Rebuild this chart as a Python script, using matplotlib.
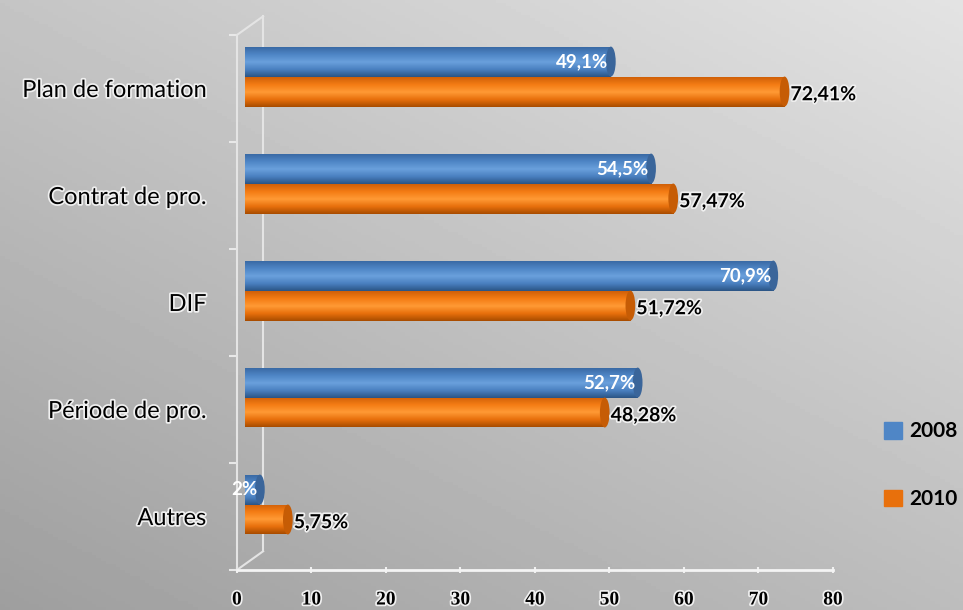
import matplotlib.pyplot as plt
import numpy as np
import matplotlib.patheffects as pe
from matplotlib.patches import Ellipse, Patch
from matplotlib.colors import LinearSegmentedColormap

categories = ['Plan de formation', 'Contrat de pro.', 'DIF', 'Période de pro.', 'Autres']
v2008 = [49.1, 54.5, 70.9, 52.7, 2.0]
v2010 = [72.41, 57.47, 51.72, 48.28, 5.75]
lab2008 = ['49,1%', '54,5%', '70,9%', '52,7%', '2%']
lab2010 = ['72,41%', '57,47%', '51,72%', '48,28%', '5,75%']
xticks = [0, 10, 20, 30, 40, 50, 60, 70, 80]

fig = plt.figure(figsize=(9.63, 6.10), dpi=100)

# grey gradient background
bg = fig.add_axes([0, 0, 1, 1], zorder=-10)
gx, gy = np.meshgrid(np.linspace(0, 1, 200), np.linspace(0, 1, 200))
g = 0.62 + 0.12 * gx + 0.15 * gy
bg.imshow(g, cmap='gray', vmin=0, vmax=1, origin='lower', extent=(0, 1, 0, 1), aspect='auto')
bg.set_axis_off()

# front axes (ticks, labels)
ax = fig.add_axes([0.246, 0.0656, 0.619, 0.877])
ax.set_facecolor('none')
# bars sit a bit deeper (3D look): shifted right and up
axb = fig.add_axes([0.2544, 0.0852, 0.619, 0.877], zorder=2)
axb.set_facecolor('none')
axb.set_axis_off()

n = len(categories)
ypos = np.arange(n)[::-1]
h = 0.28

blue_cm = LinearSegmentedColormap.from_list('b', ['#2b5585', '#4a80c0', '#6aa0dc', '#4f86c6', '#3a6aa5'])
orange_cm = LinearSegmentedColormap.from_list('o', ['#a84c00', '#e8700c', '#ff9a35', '#f47c14', '#d06008'])
grad = np.linspace(0, 1, 100).reshape(-1, 1)

def cyl(vals, yc, cm, cap):
    bars = axb.barh(yc, vals, height=h, color='none', edgecolor='none', zorder=3)
    for b, v, y in zip(bars, vals, yc):
        im = axb.imshow(grad, cmap=cm, aspect='auto', origin='lower',
                        extent=(0, v, y - h / 2, y + h / 2), zorder=3)
        im.set_clip_path(b)
        axb.add_patch(Ellipse((v, y), 1.3, h, facecolor=cap, edgecolor='none', zorder=4))
    return bars

cyl(v2008, ypos + h / 2, blue_cm, '#3a659a')
cyl(v2010, ypos - h / 2, orange_cm, '#c65c05')

glow = [pe.withStroke(linewidth=2.5, foreground='#f0f0f0')]
for v, y, t in zip(v2008, ypos + h / 2, lab2008):
    axb.text(v - 0.3, y, t, ha='right', va='center', color='white',
             fontsize=13.5, fontweight='bold', family='Lato', zorder=5)
for v, y, t in zip(v2010, ypos - h / 2, lab2010):
    axb.text(v + 0.8, y - 0.03, t, ha='left', va='center', color='black',
             fontsize=14, fontweight='bold', family='Lato', zorder=5, path_effects=glow)

for a in (ax, axb):
    a.set_xlim(0, 80)
    a.set_ylim(-0.5, n - 0.5)

ax.set_xticks(xticks)
ax.set_xticklabels([str(t) for t in xticks], fontsize=14, fontweight='bold',
                   family='Liberation Serif', path_effects=glow)
ax.set_yticks(ypos)
ax.set_yticklabels(categories, fontsize=17, family='Lato', path_effects=glow)
ax.set_yticks(np.arange(-0.5, n, 1), minor=True)
ax.tick_params(axis='y', which='major', length=0, pad=22)
ax.tick_params(axis='y', which='minor', length=6, color='#e8e8e8', width=1.5)
ax.tick_params(axis='x', length=5, color='#f0f0f0', width=1.5, direction='inout', pad=13)

for s in ['top', 'right']:
    ax.spines[s].set_visible(False)
ax.spines['left'].set_color('#e4e4e4')
ax.spines['left'].set_linewidth(1.5)
ax.spines['bottom'].set_color('#f4f4f4')
ax.spines['bottom'].set_linewidth(2)

# 3D wall lines
ax.plot([0.044, 0.044], [0.035, 1.035], transform=ax.transAxes, color='#e4e4e4',
        lw=1.5, clip_on=False, zorder=1)
ax.plot([0, 0.044], [1.0, 1.035], transform=ax.transAxes, color='#e4e4e4',
        lw=1.5, clip_on=False, zorder=1)
ax.plot([0, 0.044], [0.0, 0.035], transform=ax.transAxes, color='#e4e4e4',
        lw=1.5, clip_on=False, zorder=1)

handles = [Patch(color='#4f86c6', label='2008'), Patch(color='#e8700c', label='2010')]
fig.legend(handles=handles, loc='center left', bbox_to_anchor=(0.918, 0.237),
           frameon=False, borderpad=0, borderaxespad=0, labelspacing=2.3,
           handlelength=0.85, handleheight=0.85, handletextpad=0.35,
           prop={'family': 'Lato', 'size': 15, 'weight': 'bold'})

fig.savefig('out.png', dpi=100)
